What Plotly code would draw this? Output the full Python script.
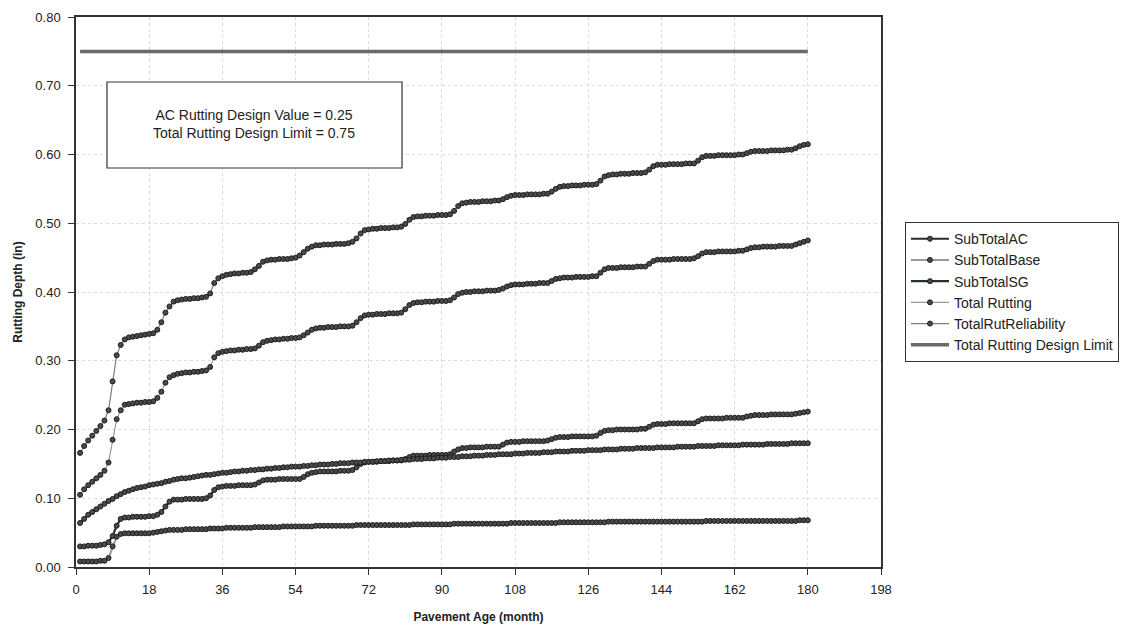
import plotly.graph_objects as go

months = list(range(1, 181))

subtotal_ac = [
    .030, .030, .031, .031, .031, .032, .033, .036, .045, .060, .070, .072,
    .072, .073, .073, .073, .073, .074, .074, .076, .080, .088, .095, .098,
    .098, .098, .099, .099, .099, .099, .099, .100, .104, .112, .116, .117,
    .118, .118, .118, .119, .119, .119, .119, .120, .123, .126, .127, .127,
    .127, .128, .128, .128, .128, .128, .128, .131, .135, .137, .138, .139,
    .139, .139, .139, .139, .140, .140, .140, .141, .145, .150, .152, .153,
    .153, .153, .154, .154, .154, .155, .155, .155, .157, .160, .162, .162,
    .162, .162, .163, .163, .163, .163, .163, .164, .168, .171, .173, .173,
    .174, .174, .174, .174, .175, .175, .175, .175, .178, .181, .182, .182,
    .182, .183, .183, .183, .183, .183, .183, .184, .186, .188, .189, .189,
    .189, .190, .190, .190, .190, .190, .190, .191, .195, .198, .199, .199,
    .200, .200, .200, .200, .200, .200, .201, .201, .204, .207, .208, .208,
    .208, .209, .209, .209, .209, .209, .209, .209, .212, .215, .216, .216,
    .216, .216, .216, .217, .217, .217, .217, .217, .219, .220, .221, .221,
    .221, .221, .222, .222, .222, .222, .222, .222, .223, .224, .225, .226,
]

subtotal_base = [
    .008, .008, .008, .008, .008, .009, .009, .013, .030, .044, .048, .049,
    .049, .049, .049, .049, .049, .049, .050, .051, .052, .053, .054, .054,
    .054, .054, .055, .055, .055, .055, .055, .055, .056, .056, .056, .056,
    .057, .057, .057, .057, .057, .057, .057, .058, .058, .058, .058, .058,
    .058, .058, .059, .059, .059, .059, .059, .059, .059, .059, .060, .060,
    .060, .060, .060, .060, .060, .060, .060, .060, .061, .061, .061, .061,
    .061, .061, .061, .061, .061, .061, .061, .061, .061, .061, .062, .062,
    .062, .062, .062, .062, .062, .062, .062, .062, .063, .063, .063, .063,
    .063, .063, .063, .063, .063, .063, .063, .063, .063, .063, .064, .064,
    .064, .064, .064, .064, .064, .064, .064, .064, .064, .064, .065, .065,
    .065, .065, .065, .065, .065, .065, .065, .065, .065, .065, .066, .066,
    .066, .066, .066, .066, .066, .066, .066, .066, .066, .066, .066, .066,
    .066, .066, .066, .066, .066, .066, .066, .066, .066, .066, .067, .067,
    .067, .067, .067, .067, .067, .067, .067, .067, .067, .067, .067, .067,
    .067, .067, .067, .067, .067, .067, .067, .067, .067, .068, .068, .068,
]

subtotal_sg = [
    .064, .070, .076, .080, .084, .088, .092, .096, .099, .103, .106, .109,
    .111, .113, .115, .116, .117, .119, .120, .121, .122, .124, .125, .127,
    .128, .129, .129, .130, .131, .132, .133, .134, .134, .135, .136, .137,
    .137, .138, .139, .139, .140, .140, .141, .141, .142, .142, .143, .143,
    .144, .144, .145, .145, .146, .146, .146, .147, .147, .148, .148, .149,
    .149, .149, .150, .150, .151, .151, .151, .152, .152, .152, .153, .153,
    .153, .154, .154, .154, .155, .155, .155, .156, .156, .156, .157, .157,
    .157, .158, .158, .158, .159, .159, .159, .160, .160, .160, .161, .161,
    .161, .162, .162, .162, .163, .163, .163, .164, .164, .164, .164, .165,
    .165, .165, .166, .166, .166, .166, .167, .167, .167, .168, .168, .168,
    .168, .169, .169, .169, .169, .170, .170, .170, .170, .171, .171, .171,
    .171, .172, .172, .172, .172, .173, .173, .173, .173, .173, .174, .174,
    .174, .174, .174, .175, .175, .175, .175, .175, .176, .176, .176, .176,
    .176, .177, .177, .177, .177, .177, .177, .178, .178, .178, .178, .178,
    .178, .179, .179, .179, .179, .179, .179, .180, .180, .180, .180, .180,
]

total_rutting = [
    .105, .113, .119, .124, .129, .134, .140, .152, .185, .215, .228, .236,
    .237, .238, .239, .239, .240, .240, .241, .246, .255, .268, .276, .279,
    .281, .282, .283, .283, .284, .284, .285, .286, .291, .305, .311, .313,
    .314, .315, .315, .316, .316, .317, .317, .318, .322, .327, .329, .330,
    .331, .331, .332, .332, .333, .333, .334, .337, .341, .345, .347, .348,
    .348, .349, .349, .349, .350, .350, .350, .351, .356, .362, .366, .367,
    .367, .368, .368, .368, .369, .369, .369, .370, .375, .381, .384, .385,
    .385, .386, .386, .386, .387, .387, .387, .388, .392, .397, .399, .400,
    .400, .401, .401, .401, .402, .402, .402, .403, .405, .408, .410, .411,
    .411, .411, .412, .412, .412, .413, .413, .413, .416, .419, .420, .421,
    .421, .421, .422, .422, .422, .422, .423, .423, .428, .433, .435, .435,
    .435, .436, .436, .436, .436, .437, .437, .437, .441, .445, .447, .447,
    .447, .447, .448, .448, .448, .448, .448, .449, .452, .456, .458, .458,
    .458, .459, .459, .459, .459, .459, .460, .460, .462, .464, .465, .465,
    .466, .466, .466, .466, .467, .467, .467, .467, .469, .471, .473, .475,
]

total_rut_reliability = [
    .166, .176, .184, .191, .198, .205, .213, .228, .270, .308, .323, .331,
    .334, .335, .336, .337, .338, .339, .340, .345, .356, .370, .379, .386,
    .388, .389, .390, .390, .391, .391, .392, .393, .398, .413, .420, .423,
    .425, .426, .427, .427, .428, .428, .429, .433, .438, .444, .446, .447,
    .447, .448, .448, .448, .449, .450, .453, .458, .463, .466, .468, .468,
    .469, .469, .469, .470, .470, .470, .471, .473, .478, .485, .490, .491,
    .492, .492, .493, .493, .493, .494, .494, .495, .499, .505, .509, .510,
    .510, .511, .511, .511, .512, .512, .512, .513, .518, .525, .529, .530,
    .531, .531, .531, .532, .532, .532, .533, .533, .535, .538, .540, .541,
    .541, .541, .542, .542, .542, .542, .543, .543, .546, .550, .553, .554,
    .554, .555, .555, .555, .556, .556, .556, .557, .562, .568, .570, .571,
    .571, .572, .572, .572, .573, .573, .573, .574, .578, .583, .585, .585,
    .585, .586, .586, .586, .586, .587, .587, .587, .591, .596, .598, .598,
    .598, .599, .599, .599, .599, .599, .600, .600, .602, .604, .605, .605,
    .605, .605, .606, .606, .606, .606, .607, .607, .609, .612, .614, .615,
]

design_limit = [0.75] * len(months)

x_ticks = [0, 18, 36, 54, 72, 90, 108, 126, 144, 162, 180, 198]
y_ticks = [0.0, 0.1, 0.2, 0.3, 0.4, 0.5, 0.6, 0.7, 0.8]

box_text = "AC Rutting Design Value = 0.25<br>Total Rutting Design Limit = 0.75"

series = [
    ("SubTotalAC", subtotal_ac, "#2b2b2b", 2.2, True),
    ("SubTotalBase", subtotal_base, "#8d9ca6", 2.0, True),
    ("SubTotalSG", subtotal_sg, "#23302f", 2.2, True),
    ("Total Rutting", total_rutting, "#9a9a9a", 1.2, True),
    ("TotalRutReliability", total_rut_reliability, "#857d6b", 1.2, True),
    ("Total Rutting Design Limit", design_limit, "#6a6a66", 3.5, False),
]

fig = go.Figure()
for i, (name, vals, col, w, mk) in enumerate(series):
    if mk:
        fig.add_trace(go.Scatter(
            x=months, y=vals, name=name, mode="lines+markers",
            line=dict(color=col, width=w),
            marker=dict(symbol="circle", size=5, color="#4a4a4a",
                        line=dict(color="#1e1e1e", width=1)),
            legendgroup=f"g{i}",
        ))
    else:
        fig.add_trace(go.Scatter(
            x=months, y=vals, name=name, mode="lines",
            line=dict(color=col, width=w),
            legendgroup=f"g{i}",
        ))

font_main = "Liberation Sans, Arial, sans-serif"

# page body has an 8px default margin; figure is sized/margined to compensate
fig.update_layout(
    width=1127, height=624,
    margin=dict(l=68, r=254, t=9, b=65, autoexpand=False),
    paper_bgcolor="white", plot_bgcolor="white",
    font=dict(family=font_main, size=13, color="#222"),
    showlegend=True,
    legend=dict(
        x=1.0298, y=0.627, xanchor="left", yanchor="top",
        bordercolor="#333", borderwidth=1, bgcolor="white",
        font=dict(family=font_main, size=14, color="#222"),
        tracegroupgap=0, itemwidth=38,
    ),
    xaxis=dict(
        range=[0, 198], tickvals=x_ticks, ticks="outside", ticklen=6,
        tickcolor="#333", showline=True, linecolor="#333", linewidth=1.5,
        mirror=True, showgrid=True, gridcolor="#d3deea", griddash="dot",
        zeroline=False, ticklabelstandoff=4, automargin=False,
        title=dict(text="<b>Pavement Age (month)</b>", standoff=16,
                   font=dict(family=font_main, size=12)),
        tickfont=dict(size=13),
    ),
    yaxis=dict(
        range=[0, 0.8], tickvals=y_ticks, tickformat=".2f", ticks="outside",
        ticklen=6, tickcolor="#333", showline=True, linecolor="#333",
        linewidth=1.5, mirror=True, showgrid=True, gridcolor="#d3deea",
        griddash="dot", zeroline=False, ticklabelstandoff=5, automargin=False,
        title=dict(text="<b>Rutting Depth (in)</b>", standoff=10,
                   font=dict(family=font_main, size=12)),
        tickfont=dict(size=13),
    ),
    shapes=[dict(
        type="rect", xref="paper", yref="paper",
        x0=0.0385, x1=0.405, y0=0.7255, y1=0.8818,
        line=dict(color="#333", width=1.2), fillcolor="white", layer="above",
    )],
    annotations=[dict(
        xref="paper", yref="paper", x=0.2217, y=0.8055,
        xanchor="center", yanchor="middle",
        text=box_text, showarrow=False, align="center",
        font=dict(family=font_main, size=14, color="#222"),
    )],
)

fig.write_html("out.html")
